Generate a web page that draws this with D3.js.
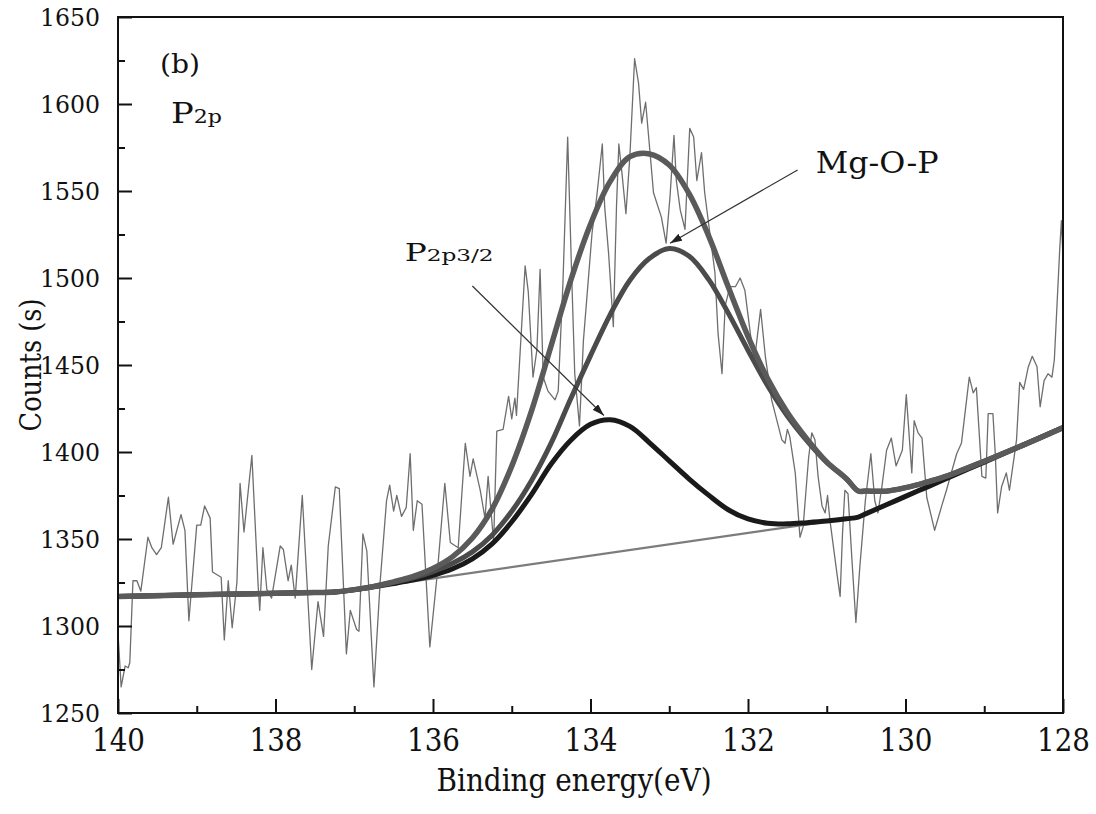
<!DOCTYPE html>
<html>
<head>
<meta charset="utf-8">
<script src="https://cdn.jsdelivr.net/npm/d3@7"></script>
<style>
  body { margin: 0; background: #fff; }
  svg text { font-family: "DejaVu Serif", serif; }
</style>
</head>
<body>
<div id="chart"></div>
<script>
// raw spectrum (binding energy in eV, counts)
const rawEnergy = [
  140.00, 139.96, 139.91, 139.87, 139.85, 139.81, 139.76, 139.71, 139.62, 139.57,
  139.51, 139.45, 139.36, 139.30, 139.20, 139.15, 139.10, 139.00, 138.95, 138.90,
  138.83, 138.80, 138.69, 138.65, 138.60, 138.55, 138.49, 138.45, 138.40, 138.30,
  138.22, 138.20, 138.16, 138.11, 138.05, 137.94, 137.90, 137.84, 137.80, 137.75,
  137.66, 137.54, 137.46, 137.39, 137.33, 137.24, 137.19, 137.10, 137.05, 136.97,
  136.94, 136.89, 136.84, 136.75, 136.67, 136.59, 136.55, 136.50, 136.46, 136.40,
  136.34, 136.29, 136.25, 136.20, 136.14, 136.04, 135.95, 135.85, 135.78, 135.68,
  135.59, 135.53, 135.49, 135.40, 135.34, 135.30, 135.23, 135.19, 135.11, 135.04,
  135.00, 134.96, 134.94, 134.83, 134.79, 134.73, 134.68, 134.64, 134.60, 134.54,
  134.45, 134.41, 134.35, 134.29, 134.24, 134.20, 134.14, 134.09, 133.98, 133.92,
  133.85, 133.82, 133.77, 133.71, 133.67, 133.64, 133.60, 133.55, 133.50, 133.44,
  133.39, 133.35, 133.30, 133.24, 133.20, 133.10, 133.04, 132.99, 132.94, 132.91,
  132.86, 132.80, 132.74, 132.69, 132.65, 132.59, 132.55, 132.42, 132.38, 132.33,
  132.29, 132.23, 132.16, 132.10, 132.04, 131.97, 131.92, 131.84, 131.78, 131.70,
  131.57, 131.53, 131.50, 131.47, 131.40, 131.34, 131.30, 131.23, 131.19, 131.15,
  131.11, 131.06, 131.02, 130.99, 130.96, 130.87, 130.83, 130.80, 130.77, 130.73,
  130.68, 130.63, 130.58, 130.51, 130.44, 130.39, 130.35, 130.30, 130.24, 130.18,
  130.12, 130.04, 129.99, 129.92, 129.89, 129.84, 129.79, 129.73, 129.63, 129.54,
  129.48, 129.35, 129.29, 129.19, 129.14, 129.10, 129.03, 128.98, 128.95, 128.89,
  128.86, 128.83, 128.78, 128.72, 128.68, 128.59, 128.55, 128.50, 128.44, 128.39,
  128.33, 128.29, 128.24, 128.19, 128.14, 128.11, 128.04, 128.02, 128.00
];
const rawCounts = [
  1296, 1265, 1277, 1276, 1279, 1326, 1326, 1320, 1351, 1345,
  1341, 1345, 1374, 1347, 1364, 1355, 1303, 1358, 1358, 1369,
  1362, 1331, 1328, 1292, 1326, 1299, 1325, 1382, 1354, 1398,
  1323, 1309, 1345, 1321, 1316, 1346, 1344, 1326, 1335, 1316,
  1375, 1275, 1314, 1294, 1346, 1380, 1379, 1284, 1309, 1298,
  1297, 1353, 1343, 1265, 1326, 1372, 1381, 1366, 1375, 1363,
  1368, 1399, 1355, 1372, 1370, 1288, 1328, 1382, 1348, 1345,
  1405, 1386, 1396, 1378, 1362, 1386, 1348, 1412, 1413, 1432,
  1419, 1431, 1421, 1507, 1492, 1443, 1459, 1505, 1443, 1435,
  1430, 1435, 1497, 1581, 1503, 1445, 1415, 1464, 1526, 1547,
  1577, 1541, 1514, 1472, 1541, 1577, 1560, 1537, 1570, 1626,
  1612, 1589, 1601, 1570, 1549, 1535, 1520, 1547, 1582, 1556,
  1539, 1528, 1586, 1581, 1556, 1572, 1549, 1503, 1468, 1445,
  1484, 1495, 1495, 1500, 1493, 1468, 1452, 1482, 1455, 1430,
  1407, 1405, 1413, 1409, 1388, 1351, 1357, 1397, 1411, 1407,
  1386, 1369, 1365, 1375, 1361, 1330, 1317, 1353, 1378, 1376,
  1338, 1302, 1334, 1372, 1399, 1372, 1365, 1380, 1401, 1408,
  1392, 1401, 1433, 1388, 1418, 1411, 1408, 1374, 1355, 1369,
  1378, 1399, 1405, 1443, 1434, 1437, 1386, 1385, 1422, 1422,
  1399, 1365, 1380, 1388, 1378, 1407, 1440, 1436, 1449, 1455,
  1449, 1426, 1441, 1445, 1443, 1453, 1518, 1533, 1512
];

// background line (key points)
const bgEnergy = [140, 137.2, 130.6, 128];
const bgCounts = [1317, 1319.5, 1362.6, 1414];

// fitted curves
const fitEnergy = [
  140, 139, 138, 137.5, 137.25, 137, 136.75, 136.5, 136.25, 136,
  135.75, 135.5, 135.25, 135, 134.75, 134.5, 134.25, 134, 133.75, 133.5,
  133.25, 133, 132.75, 132.5, 132.25, 132, 131.75, 131.5, 131.25, 131,
  130.75, 130.6, 130.5, 130.25, 130, 129.75, 129.5, 129, 128.5, 128
];
const p2p32Counts = [
  1317, 1317.9, 1318.8, 1319.2, 1319.5, 1320.8, 1322.5, 1324.4, 1326.5, 1329.1,
  1332.9, 1338.6, 1347.2, 1359.9, 1375.5, 1393.1, 1406.8, 1415.9, 1418.5, 1414.7,
  1405.3, 1394.9, 1384.6, 1375.2, 1366.8, 1361.5, 1359.1, 1358.7, 1359.4, 1360.3,
  1361.6, 1362.6, 1364.6, 1369.5, 1374.5, 1379.4, 1384.3, 1394.2, 1404.1, 1414.0
];
const mgopCounts = [
  1317, 1317.9, 1318.8, 1319.2, 1319.6, 1320.9, 1322.7, 1325.1, 1327.7, 1331.3,
  1336.0, 1342.6, 1352.2, 1365.9, 1383.5, 1405.1, 1430.8, 1455.4, 1479.0, 1498.7,
  1511.3, 1516.9, 1512.6, 1499.2, 1479.8, 1458.5, 1438.1, 1420.7, 1406.4, 1394.0,
  1384.6, 1377.6, 1377.6, 1377.5, 1379.5, 1382.4, 1385.8, 1394.7, 1404.1, 1414.0
];
const envelopeCounts = [
  1317, 1317.9, 1318.8, 1319.2, 1319.6, 1320.9, 1322.8, 1325.4, 1328.5, 1333.1,
  1339.9, 1350.6, 1367.2, 1391.9, 1423.5, 1461.1, 1498.8, 1530.9, 1555.5, 1569.7,
  1571.3, 1564.9, 1548.6, 1524.2, 1494.8, 1466.5, 1442.1, 1422.7, 1407.4, 1394.3,
  1384.6, 1377.6, 1377.6, 1377.5, 1379.5, 1382.4, 1385.8, 1394.7, 1404.1, 1414.0
];

const xMajor = [140, 138, 136, 134, 132, 130, 128];
const xMinor = [139, 137, 135, 133, 131, 129];
const yMajor = [1250, 1300, 1350, 1400, 1450, 1500, 1550, 1600, 1650];
const yMinor = [1275, 1325, 1375, 1425, 1475, 1525, 1575, 1625];

const FONT = "DejaVu Serif";

const W = 1096, H = 814;
const MARGIN = { TOP: 17, RIGHT: 33, BOTTOM: 101, LEFT: 118 };
const WIDTH = W - MARGIN.LEFT - MARGIN.RIGHT;
const HEIGHT = H - MARGIN.TOP - MARGIN.BOTTOM;

const svg = d3.select("#chart").append("svg")
  .attr("width", W)
  .attr("height", H)
  .attr("font-family", FONT);

const g = svg.append("g")
  .attr("transform", `translate(${MARGIN.LEFT}, ${MARGIN.TOP})`);

const x = d3.scaleLinear().domain([140, 128]).range([0, WIDTH]);
const y = d3.scaleLinear().domain([1250, 1650]).range([HEIGHT, 0]);

const zip = (xs, ys) => xs.map((v, i) => [v, ys[i]]);

// clip everything to the frame
g.append("defs").append("clipPath").attr("id", "clip")
  .append("rect").attr("width", WIDTH).attr("height", HEIGHT);
const plot = g.append("g").attr("clip-path", "url(#clip)");

// raw data
plot.append("path")
  .datum(zip(rawEnergy, rawCounts))
  .attr("fill", "none")
  .attr("stroke", "#6e6e6e")
  .attr("stroke-width", 1.3)
  .attr("stroke-linejoin", "round")
  .attr("d", d3.line().x(d => x(d[0])).y(d => y(d[1])));

// background
plot.append("path")
  .datum(zip(bgEnergy, bgCounts))
  .attr("fill", "none")
  .attr("stroke", "#7c7c7c")
  .attr("stroke-width", 2.2)
  .attr("d", d3.line().x(d => x(d[0])).y(d => y(d[1])));

const smooth = d3.line()
  .x(d => x(d[0]))
  .y(d => y(d[1]))
  .curve(d3.curveCatmullRom.alpha(0.5));

// fit components
const fits = [
  { counts: p2p32Counts, color: "#1a1a1a", width: 5 },
  { counts: mgopCounts, color: "#4b4b4b", width: 5 },
  { counts: envelopeCounts, color: "#5a5a5a", width: 5.5 },
];
fits.forEach(f => {
  plot.append("path")
    .datum(zip(fitEnergy, f.counts))
    .attr("fill", "none")
    .attr("stroke", f.color)
    .attr("stroke-width", f.width)
    .attr("stroke-linejoin", "round")
    .attr("d", smooth);
});

// axes, ticks pointing inward
const xAxisGroup = g.append("g").attr("transform", `translate(0, ${HEIGHT})`);
xAxisGroup.append("g")
  .call(d3.axisBottom(x).tickValues(xMinor).tickSize(-7).tickFormat(""));
xAxisGroup.append("g")
  .attr("class", "x-major")
  .call(d3.axisBottom(x).tickValues(xMajor).tickSize(-14).tickPadding(16).tickFormat(d3.format("d")));

const yAxisGroup = g.append("g");
yAxisGroup.append("g")
  .call(d3.axisLeft(y).tickValues(yMinor).tickSize(-7).tickFormat(""));
yAxisGroup.append("g")
  .attr("class", "y-major")
  .call(d3.axisLeft(y).tickValues(yMajor).tickSize(-14).tickPadding(18).tickFormat(d3.format("d")));

g.selectAll(".domain").remove();
g.selectAll(".tick line").attr("stroke", "#111").attr("stroke-width", 2);
g.selectAll(".x-major, .y-major").attr("font-family", FONT);
g.selectAll(".x-major text")
  .attr("font-family", FONT)
  .attr("font-size", 31)
  .attr("textLength", 53)
  .attr("lengthAdjust", "spacingAndGlyphs")
  .attr("fill", "#111");
g.selectAll(".y-major text")
  .attr("font-family", FONT)
  .attr("font-size", 25)
  .attr("textLength", 60)
  .attr("lengthAdjust", "spacingAndGlyphs")
  .attr("fill", "#111");

// frame
g.append("rect")
  .attr("width", WIDTH)
  .attr("height", HEIGHT)
  .attr("fill", "none")
  .attr("stroke", "#111")
  .attr("stroke-width", 2);

// plain text helper: font size sets the height, textLength the width
function label(sel, opts) {
  const t = sel.append("text")
    .attr("x", opts.x)
    .attr("y", opts.y)
    .attr("font-family", FONT)
    .attr("font-size", opts.size)
    .attr("fill", "#111")
    .attr("text-anchor", opts.anchor || "start")
    .attr("textLength", opts.len)
    .attr("lengthAdjust", "spacingAndGlyphs");
  if (opts.transform) t.attr("transform", opts.transform);
  t.append("tspan").text(opts.text);
  if (opts.sub) t.append("tspan").attr("font-size", opts.subSize).text(opts.sub);
  return t;
}

// axis titles
label(g, { x: 574 - MARGIN.LEFT, y: 791 - MARGIN.TOP, size: 32, anchor: "middle", len: 275, text: "Binding energy(eV)" });
label(g, { x: -(365 - MARGIN.TOP), y: 41 - MARGIN.LEFT, size: 30, anchor: "middle", len: 133,
  transform: "rotate(-90)", text: "Counts (s)" });

// panel marks
label(g, { x: 160 - MARGIN.LEFT, y: 73 - MARGIN.TOP, size: 26, len: 40, text: "(b)" });
label(g, { x: 171 - MARGIN.LEFT, y: 123 - MARGIN.TOP, size: 27.5, len: 51, text: "P", sub: "2p", subSize: 18 });

const defs = svg.append("defs");
defs.append("marker")
  .attr("id", "arrow")
  .attr("viewBox", "0 0 12 8")
  .attr("refX", 12)
  .attr("refY", 4)
  .attr("markerWidth", 12)
  .attr("markerHeight", 8)
  .attr("markerUnits", "userSpaceOnUse")
  .attr("orient", "auto")
  .append("path")
  .attr("d", "M0,0 L12,4 L0,8 Z")
  .attr("fill", "#222");

const annotations = [
  { text: "P", sub: "2p3/2", size: 24, subSize: 17, len: 89, tx: 136.36, ty: 1509.8, from: [135.50, 1495.4], to: [133.83, 1421] },
  { text: "Mg-O-P", sub: "", size: 29.5, subSize: 0, len: 123, tx: 131.14, ty: 1560.3, from: [131.37, 1562.1], to: [132.99, 1520] },
];
annotations.forEach(a => {
  g.append("line")
    .attr("x1", x(a.from[0])).attr("y1", y(a.from[1]))
    .attr("x2", x(a.to[0])).attr("y2", y(a.to[1]))
    .attr("stroke", "#333")
    .attr("stroke-width", 1.2)
    .attr("marker-end", "url(#arrow)");
  label(g, { x: x(a.tx), y: y(a.ty), size: a.size, len: a.len, text: a.text, sub: a.sub, subSize: a.subSize });
});
</script>
</body>
</html>
